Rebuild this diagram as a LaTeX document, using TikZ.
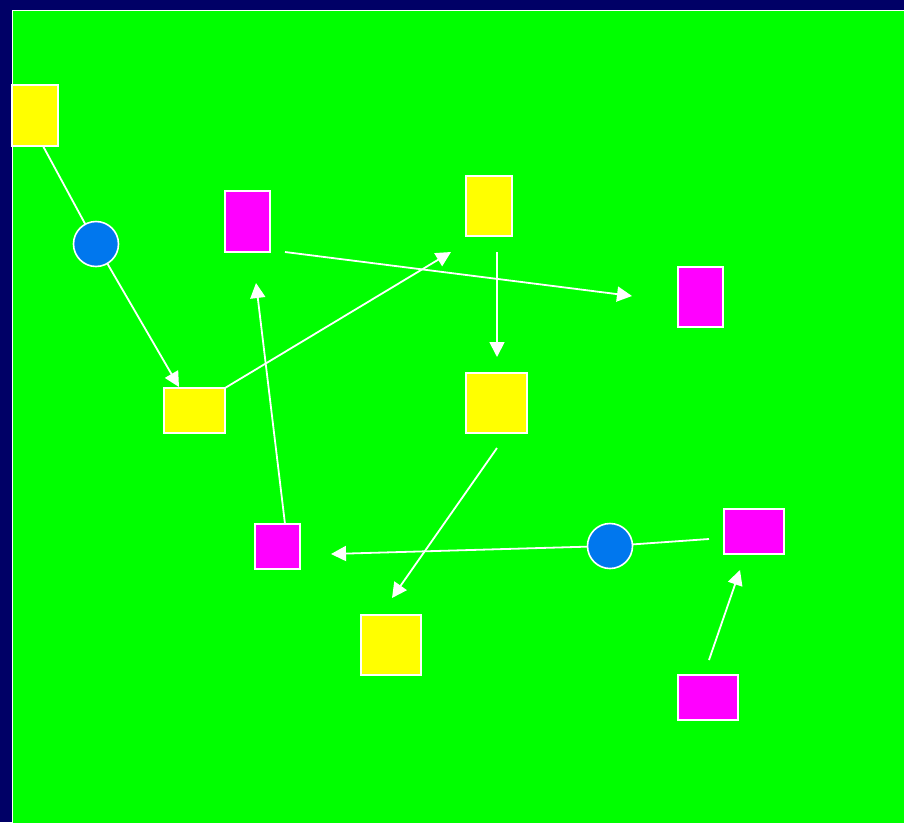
\documentclass[tikz,border=0pt]{standalone}
\usetikzlibrary{arrows.meta}
\definecolor{navy}{RGB}{0,0,102}
\definecolor{bggreen}{RGB}{0,255,0}
\definecolor{ylw}{RGB}{255,255,0}
\definecolor{mag}{RGB}{255,0,255}
\definecolor{blu}{RGB}{0,119,238}
\begin{document}
\begin{tikzpicture}[x=1pt,y=-1pt,
  box/.style={draw=white,line width=1.6pt,inner sep=0pt,rectangle},
  ybox/.style={box,fill=ylw},
  mbox/.style={box,fill=mag},
  dot/.style={draw=white,line width=1.6pt,fill=blu,circle,inner sep=0pt,minimum size=45pt},
  link/.style={draw=white,line width=1.8pt},
  arr/.style={link,-{Triangle[length=15pt,width=15pt]}}]
\useasboundingbox (0,0) rectangle (904,822);
\fill[navy] (0,0) rectangle (904,822);
\filldraw[fill=bggreen,draw=white,line width=1.5pt] (12.5,10.5) rectangle (910,830);
% connector end points
\coordinate (a1) at (43,146);
\coordinate (a2) at (179,387);
\coordinate (b1) at (225,388);
\coordinate (b2) at (451,252);
\coordinate (c1) at (285,252);
\coordinate (c2) at (632,296);
\coordinate (d1) at (497,252);
\coordinate (d2) at (497,357);
\coordinate (e1) at (285,524);
\coordinate (e2) at (256,283);
\coordinate (f1) at (497,448);
\coordinate (f2) at (392,598);
\coordinate (g1) at (709,539);
\coordinate (g2) at (331,554);
\coordinate (h1) at (709,660);
\coordinate (h2) at (740,570);
% lines
\draw[link] (a1) -- (96,244);
\draw[arr] (96,244) -- (a2);
\draw[arr] (b1) -- (b2);
\draw[arr] (c1) -- (c2);
\draw[arr] (d1) -- (d2);
\draw[arr] (e1) -- (e2);
\draw[arr] (f1) -- (f2);
\draw[link] (g1) -- (610,546);
\draw[arr] (610,546) -- (g2);
\draw[arr] (h1) -- (h2);
% nodes
\node[ybox,minimum width=46pt,minimum height=61pt] (Y1) at (35,115.5) {};
\node[dot] (C1) at (96,244) {};
\node[mbox,minimum width=45pt,minimum height=61pt] (M1) at (247.5,221.5) {};
\node[ybox,minimum width=46pt,minimum height=60pt] (Y2) at (489,206) {};
\node[mbox,minimum width=45pt,minimum height=60pt] (M2) at (700.5,297) {};
\node[ybox,minimum width=61pt,minimum height=45pt] (Y3) at (194.5,410.5) {};
\node[ybox,minimum width=61pt,minimum height=60pt] (Y4) at (496.5,403) {};
\node[mbox,minimum width=45pt,minimum height=45pt] (M3) at (277.5,546.5) {};
\node[dot] (C2) at (610,546) {};
\node[mbox,minimum width=60pt,minimum height=45pt] (M4) at (754,531.5) {};
\node[ybox,minimum width=60pt,minimum height=60pt] (Y5) at (391,645) {};
\node[mbox,minimum width=60pt,minimum height=45pt] (M5) at (708,697.5) {};
\end{tikzpicture}
\end{document}
